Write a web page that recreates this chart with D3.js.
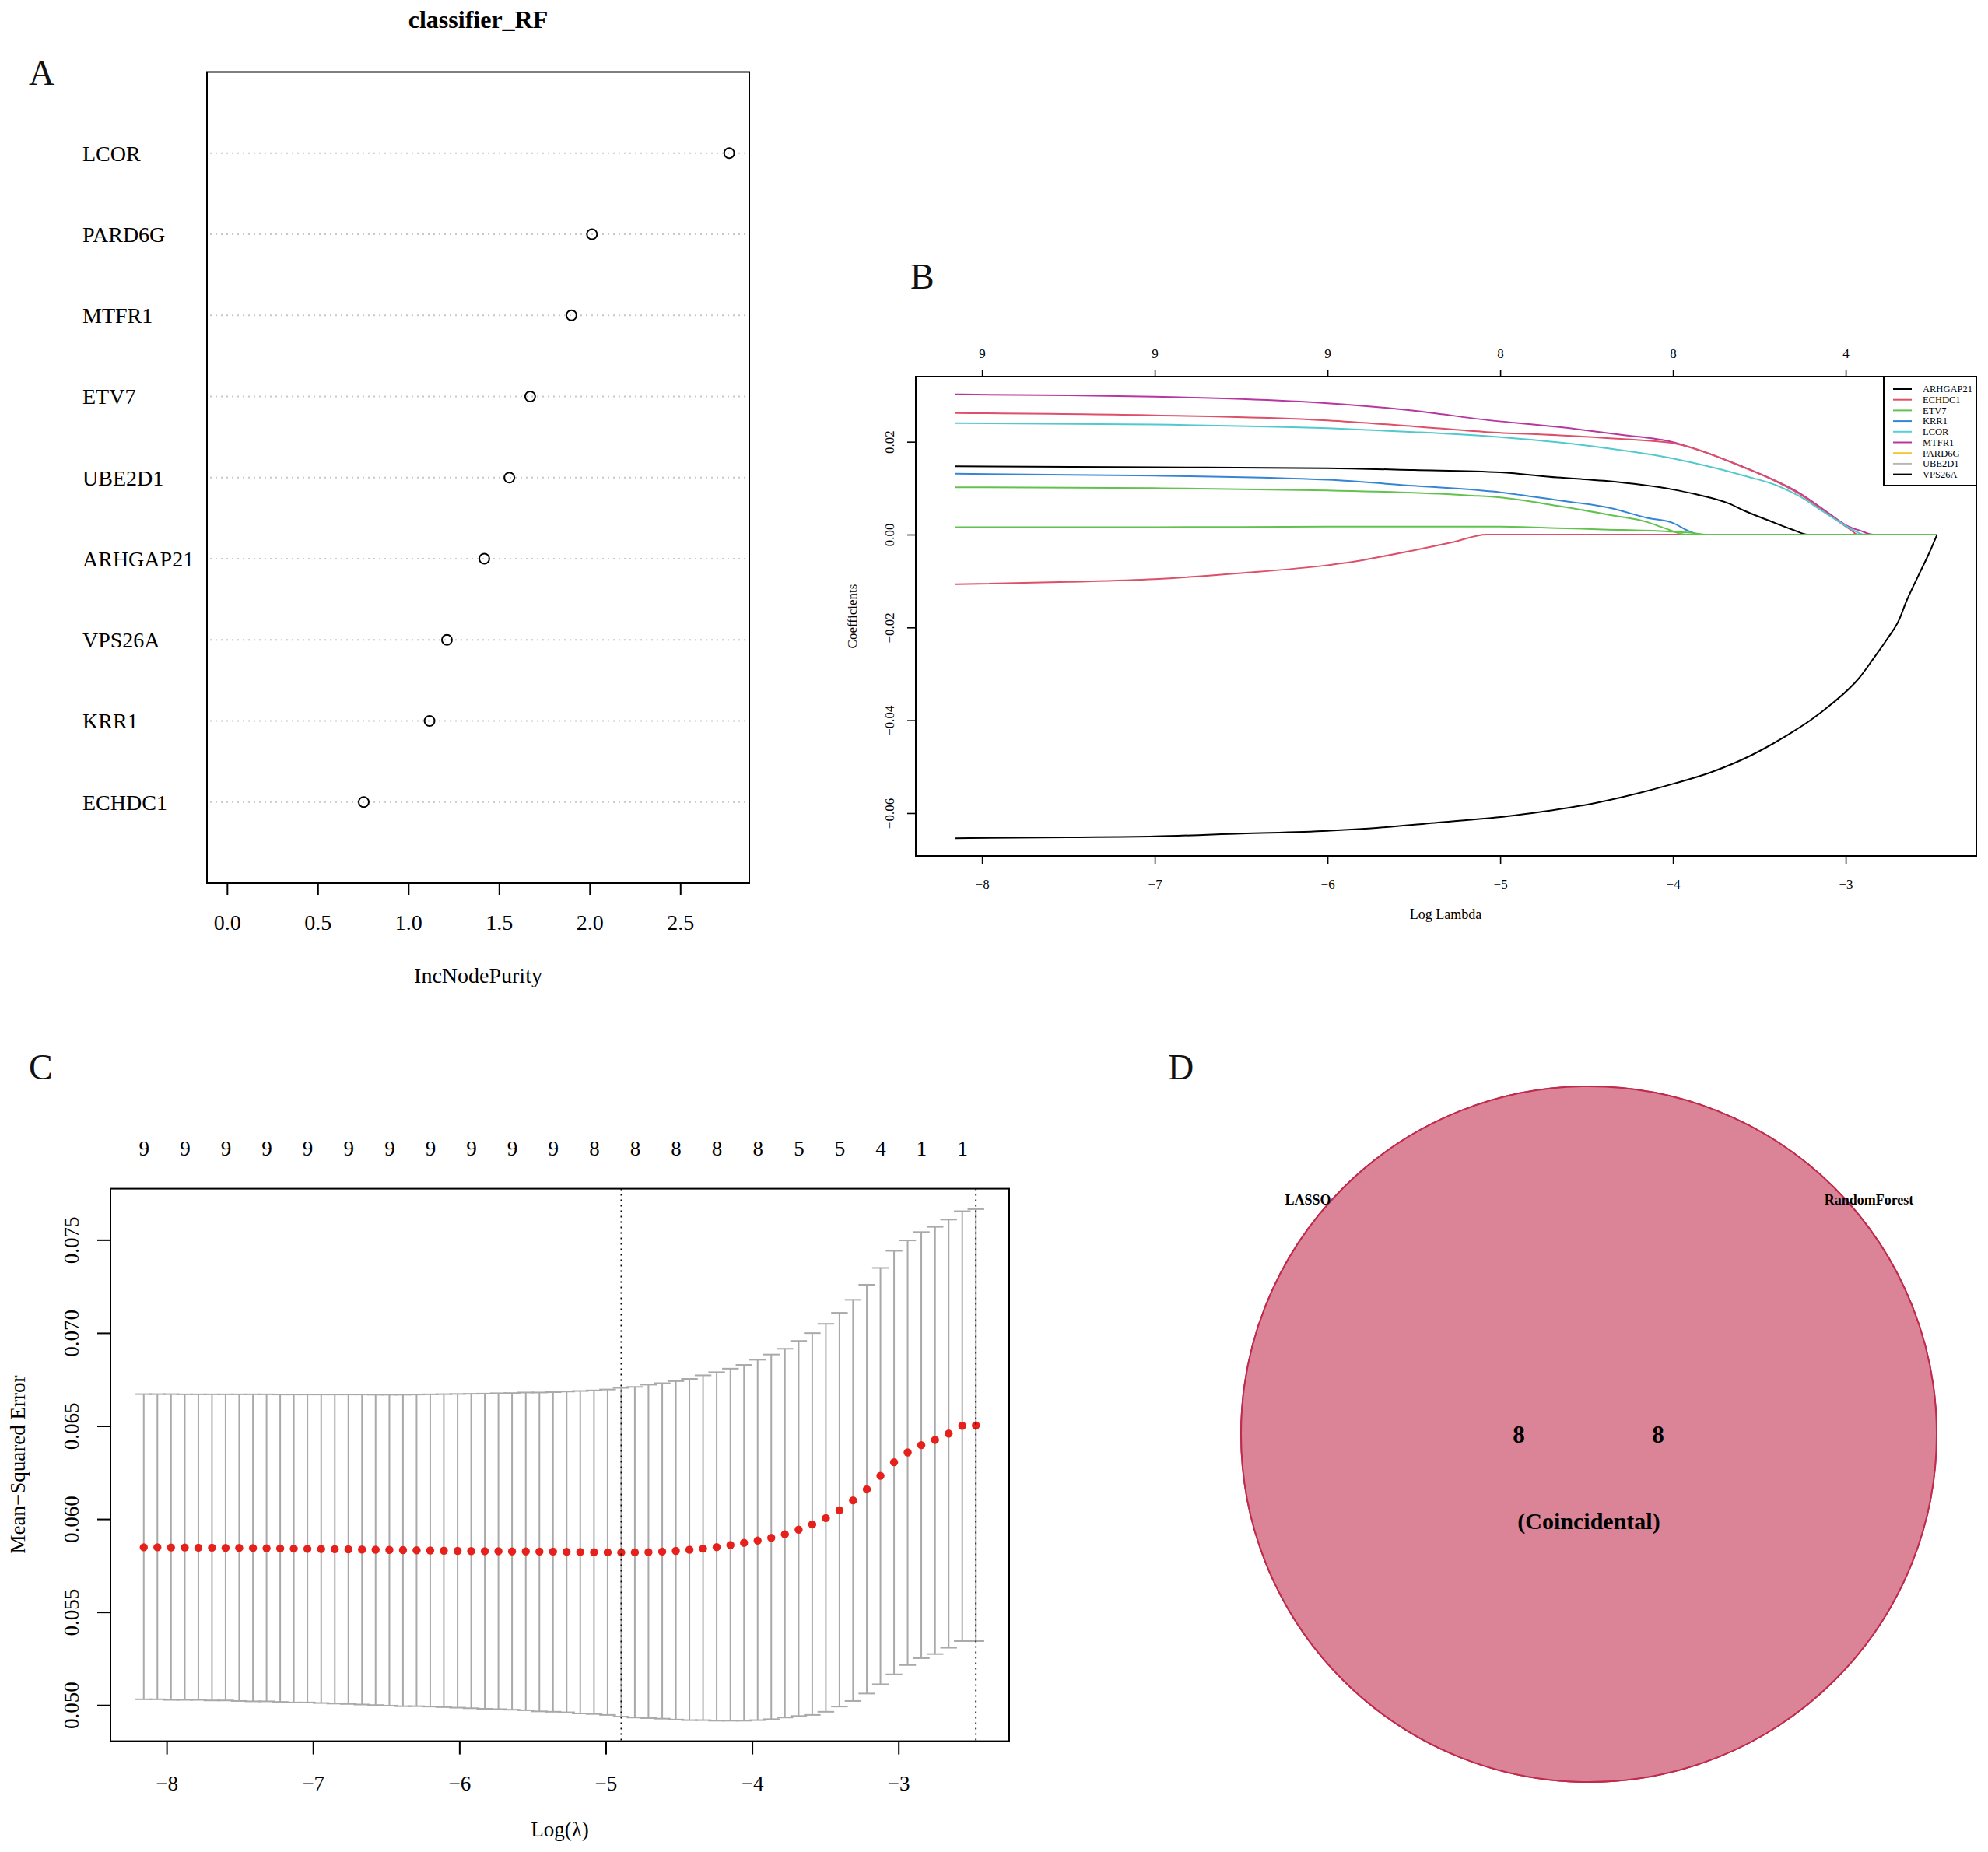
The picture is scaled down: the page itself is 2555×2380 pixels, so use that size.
<!DOCTYPE html>
<html>
<head>
<meta charset="utf-8">
<script src="https://cdnjs.cloudflare.com/ajax/libs/d3/7.8.5/d3.min.js"></script>
<style>
  body { margin: 0; background: #fff; }
  svg { display: block; }
</style>
</head>
<body>
<svg id="fig" width="2555" height="2380"></svg>
<script>
// ---- A: random forest importance ----
var rfGenes = ["LCOR", "PARD6G", "MTFR1", "ETV7", "UBE2D1", "ARHGAP21", "VPS26A", "KRR1", "ECHDC1"];
var rfPurity = [2.77, 2.013, 1.90, 1.672, 1.557, 1.419, 1.213, 1.117, 0.754];
var rfTicks = [0, 0.5, 1, 1.5, 2, 2.5];

// ---- B: lasso coefficient paths (log lambda, coefficient) ----
var legendGenes = ["ARHGAP21", "ECHDC1", "ETV7", "KRR1", "LCOR", "MTFR1", "PARD6G", "UBE2D1", "VPS26A"];
var legendColors = ["#000000", "#dc5069", "#63c24f", "#3585d6", "#52d2d6", "#b8379f", "#f2c530", "#b8b8b8", "#000000"];

var pathMTFR1 = [[-8.156,0.0302],[-7.5,0.0300],[-7.0,0.0297],[-6.5,0.0292],[-6.0,0.0283],[-5.5,0.0267],[-5.08,0.0247],[-4.67,0.0232],[-4.3,0.0215],[-4.0,0.0199],[-3.9,0.0188],[-3.6,0.0147],[-3.4,0.0115],[-3.27,0.0090],[-3.12,0.0052],[-2.97,0.0015],[-2.92,0.0009],[-2.84,0],[-2.471,0]];
var pathECHDC1 = [[-8.156,0.0262],[-7.0,0.0257],[-6.0,0.0246],[-5.5,0.0233],[-5.08,0.0221],[-4.67,0.0214],[-4.3,0.0206],[-4.0,0.0197],[-3.9,0.0188],[-3.6,0.0146],[-3.4,0.0114],[-3.27,0.0088],[-3.12,0.0049],[-2.97,0.0010],[-2.93,0],[-2.471,0]];
var pathLCOR = [[-8.156,0.0240],[-7.0,0.0237],[-6.0,0.0229],[-5.5,0.0221],[-5.0,0.0210],[-4.67,0.0199],[-4.4,0.0187],[-4.0,0.0164],[-3.75,0.0143],[-3.59,0.0127],[-3.4,0.0106],[-3.27,0.0083],[-3.12,0.0047],[-3.0,0.0019],[-2.96,0.0010],[-2.89,0],[-2.471,0]];
var pathARHGAP21 = [[-8.156,0.0147],[-7.0,0.0145],[-6.0,0.0143],[-5.5,0.0139],[-5.0,0.0134],[-4.67,0.0123],[-4.4,0.0116],[-4.0,0.0097],[-3.87,0.0087],[-3.67,0.0066],[-3.59,0.0052],[-3.43,0.0028],[-3.31,0.0011],[-3.22,0],[-2.471,0]];
var pathKRR1 = [[-8.156,0.0131],[-7.0,0.0127],[-6.0,0.0118],[-5.5,0.0105],[-5.0,0.0091],[-4.67,0.0074],[-4.36,0.0057],[-4.15,0.0036],[-4.0,0.0025],[-3.9,0.0006],[-3.84,0],[-2.471,0]];
var pathETV7 = [[-8.156,0.0102],[-7.0,0.0100],[-6.0,0.0095],[-5.5,0.0090],[-5.16,0.0084],[-5.0,0.0080],[-4.67,0.0062],[-4.36,0.0042],[-4.15,0.0027],[-4.05,0.0014],[-3.92,0],[-2.471,0]];
var pathPARD6G = [[-8.156,0.0016],[-7.0,0.0016],[-6.0,0.0017],[-5.0,0.0017],[-4.67,0.0014],[-4.4,0.0011],[-4.05,0.0007],[-3.9,0.0004],[-3.8,0],[-2.471,0]];
var pathUBE2D1 = [[-8.156,-0.0107],[-7.5,-0.0102],[-7.0,-0.0096],[-6.5,-0.0083],[-6.0,-0.0066],[-5.84,-0.0058],[-5.68,-0.0047],[-5.5,-0.0034],[-5.27,-0.0016],[-5.08,0],[-2.471,0]];
var pathVPS26A = [[-8.156,-0.0654],[-7.5,-0.0652],[-7.0,-0.0650],[-6.5,-0.0644],[-6.0,-0.0638],[-5.84,-0.0635],[-5.38,-0.0621],[-4.92,-0.0605],[-4.46,-0.0579],[-4.0,-0.0537],[-3.78,-0.0512],[-3.55,-0.0476],[-3.32,-0.0428],[-3.2,-0.0399],[-3.085,-0.0366],[-2.92,-0.0308],[-2.83,-0.0262],[-2.76,-0.0225],[-2.69,-0.0183],[-2.65,-0.0145],[-2.58,-0.0089],[-2.522,-0.0044],[-2.471,0]];

var coefTopAt = [-8, -7, -6, -5, -4, -3];
var coefTopDf = [9, 9, 9, 8, 8, 4];
var coefXTicks = [-8, -7, -6, -5, -4, -3];
var coefYTicks = [-0.06, -0.04, -0.02, 0, 0.02];

// ---- C: cross validation ----
var cvLogLambda = [-8.156,-8.063,-7.970,-7.876,-7.783,-7.690,-7.597,-7.504,-7.410,-7.317,-7.224,-7.131,-7.038,-6.944,-6.851,-6.758,-6.665,-6.572,-6.478,-6.385,-6.292,-6.199,-6.106,-6.012,-5.919,-5.826,-5.733,-5.640,-5.546,-5.453,-5.360,-5.267,-5.174,-5.080,-4.987,-4.894,-4.801,-4.708,-4.614,-4.521,-4.428,-4.335,-4.242,-4.148,-4.055,-3.962,-3.869,-3.776,-3.682,-3.589,-3.496,-3.403,-3.310,-3.216,-3.123,-3.030,-2.937,-2.844,-2.750,-2.657,-2.564,-2.471];
var cvMean = [0.05848,0.05848,0.05847,0.05847,0.05846,0.05846,0.05845,0.05845,0.05844,0.05843,0.05842,0.05841,0.0584,0.05839,0.05838,0.05837,0.05836,0.05835,0.05834,0.05833,0.05832,0.05831,0.0583,0.05829,0.05828,0.05827,0.05827,
  0.05826,0.05826,0.05825,0.05825,0.05824,0.05823,0.05822,0.05821,0.0582,0.05821,0.05822,0.05825,0.05829,0.05835,0.05841,0.05849,0.0586,0.05872,0.05884,0.05899,0.05918,0.05943,0.05971,0.06005,0.06047,0.061,0.06159,0.06232,0.06305,0.06358,0.06397,0.06425,0.06459,0.06501,0.06503];
var cvUpper = [0.06671,0.06671,0.06671,0.0667,0.0667,0.0667,0.0667,0.0667,0.0667,0.0667,0.06669,0.06669,0.06669,0.06669,0.06669,0.06669,0.06669,0.06668,0.06668,0.06668,0.06669,0.0667,0.06671,0.06672,0.06673,0.06674,0.06676,
  0.06677,0.0668,0.0668,0.06682,0.06685,0.06688,0.06691,0.06696,0.06705,0.0671,0.06722,0.0673,0.06741,0.06753,0.06772,0.06789,0.06808,0.06828,0.06856,0.06884,0.06915,0.06957,0.06999,0.07049,0.07108,0.07178,0.07259,0.07349,0.07441,0.07497,0.07542,0.0757,0.07609,0.07654,0.07665];
var cvLower = [0.05031,0.05031,0.05028,0.05028,0.05028,0.05025,0.05025,0.05022,0.0502,0.0502,0.05017,0.05014,0.05014,0.05011,0.05008,0.05006,0.05003,0.05,0.04997,0.04994,0.04994,0.04992,0.04989,0.04986,0.04983,0.0498,0.04978,
  0.04975,0.04972,0.04966,0.04964,0.04961,0.04955,0.04952,0.04947,0.04938,0.04933,0.0493,0.04927,0.04922,0.04919,0.04919,0.04916,0.04916,0.04916,0.04919,0.04924,0.04933,0.04941,0.04947,0.04964,0.04992,0.05022,0.05062,0.05112,0.05165,0.05215,0.05252,0.05274,0.05308,0.05344,0.05344];
var cvTopAt = [-8.156,-7.876,-7.597,-7.317,-7.038,-6.758,-6.478,-6.199,-5.919,-5.640,-5.360,-5.080,-4.801,-4.521,-4.242,-3.962,-3.682,-3.403,-3.123,-2.844,-2.564];
var cvTopDf = [9,9,9,9,9,9,9,9,9,9,9,8,8,8,8,8,5,5,4,1,1];
var cvLambdaMin = -4.894, cvLambda1se = -2.471;
var cvXTicks = [-8, -7, -6, -5, -4, -3];
var cvYTicks = [0.050, 0.055, 0.060, 0.065, 0.070, 0.075];

// ---- D: venn ----
var vennSets = ["LASSO", "RandomForest"];
var vennSizes = [8, 8];
var vennShared = 8;

var serif = '"Liberation Serif", "Times New Roman", serif';
var svg = d3.select("#fig");
svg.append("rect").attr("width", 2555).attr("height", 2380).attr("fill", "#fff");

/* R style axis range: data extent padded by 4% */
function rPad(ext) {
  var d = (ext[1] - ext[0]) * 0.04;
  return [ext[0] - d, ext[1] + d];
}

function styleAxis(g, size, lw) {
  g.select(".domain").remove();
  g.selectAll("text").attr("font-family", serif).attr("font-size", size).attr("fill", "#000");
  g.selectAll("line").attr("stroke", "#000").attr("stroke-width", lw || 2);
}

/* y labels in R run along the axis */
function rotateLabels(g, offset) {
  g.selectAll(".tick text")
    .attr("x", null).attr("dy", null)
    .attr("text-anchor", "middle")
    .attr("transform", "translate(" + (-offset) + ",0) rotate(-90)");
}

function box(g, x, y) {
  g.append("rect")
    .attr("x", x.range()[0]).attr("y", y.range()[1])
    .attr("width", x.range()[1] - x.range()[0])
    .attr("height", y.range()[0] - y.range()[1])
    .attr("fill", "none").attr("stroke", "#000").attr("stroke-width", 2);
}

function panelLetter(t, x, y) {
  svg.append("text").attr("x", x).attr("y", y).text(t)
    .attr("font-family", serif).attr("font-size", 46).attr("fill", "#111");
}

/*** Panel A ***/
(function() {
  var g = svg.append("g");
  var n = rfGenes.length;
  var x = d3.scaleLinear().domain(rPad([0, d3.max(rfPurity)])).range([266, 963]);
  var y = d3.scaleLinear().domain([0, n + 1]).range([1135, 92.5]);

  g.selectAll("line.guide").data(rfGenes).join("line")
    .attr("class", "guide")
    .attr("x1", x.range()[0] + 4).attr("x2", x.range()[1] - 4)
    .attr("y1", function(d, i) { return y(n - i); })
    .attr("y2", function(d, i) { return y(n - i); })
    .attr("stroke", "#c8c8c8").attr("stroke-width", 2).attr("stroke-dasharray", "2,5");

  g.selectAll("circle").data(rfPurity).join("circle")
    .attr("cx", function(d) { return x(d); })
    .attr("cy", function(d, i) { return y(n - i); })
    .attr("r", 6.5)
    .attr("fill", "none").attr("stroke", "#000").attr("stroke-width", 2);

  g.selectAll("text.lab").data(rfGenes).join("text")
    .attr("class", "lab")
    .attr("x", 106)
    .attr("y", function(d, i) { return y(n - i); })
    .attr("dy", "0.35em")
    .attr("font-family", serif).attr("font-size", 28)
    .text(function(d) { return d; });

  box(g, x, y);

  var xa = g.append("g").attr("transform", "translate(0," + y.range()[0] + ")")
    .call(d3.axisBottom(x).tickValues(rfTicks).tickSize(15).tickPadding(25).tickFormat(d3.format(".1f")));
  styleAxis(xa, 28);

  g.append("text").attr("x", 614.5).attr("y", 1263).attr("text-anchor", "middle")
    .attr("font-family", serif).attr("font-size", 28).text("IncNodePurity");
  g.append("text").attr("x", 614.5).attr("y", 36).attr("text-anchor", "middle")
    .attr("font-family", serif).attr("font-size", 32).attr("font-weight", "bold").text("classifier_RF");
})();
panelLetter("A", 37, 109);

/*** Panel B ***/
(function() {
  var g = svg.append("g");
  var paths = [
    { name: "VPS26A", color: "#000000", pts: pathVPS26A },
    { name: "ARHGAP21", color: "#000000", pts: pathARHGAP21 },
    { name: "MTFR1", color: "#b8379f", pts: pathMTFR1 },
    { name: "ECHDC1", color: "#dc5069", pts: pathECHDC1 },
    { name: "LCOR", color: "#52c9cf", pts: pathLCOR },
    { name: "KRR1", color: "#3585d6", pts: pathKRR1 },
    { name: "UBE2D1", color: "#dc5069", pts: pathUBE2D1 },
    { name: "ETV7", color: "#63c24f", pts: pathETV7 },
    { name: "PARD6G", color: "#63c24f", pts: pathPARD6G }
  ];
  var allPts = d3.merge(paths.map(function(p) { return p.pts; }));
  var x = d3.scaleLinear().domain(rPad(d3.extent(allPts, function(d) { return d[0]; }))).range([1177, 2540]);
  var y = d3.scaleLinear().domain(rPad(d3.extent(allPts, function(d) { return d[1]; }))).range([1100, 484]);

  var line = d3.line()
    .curve(d3.curveMonotoneX)
    .x(function(d) { return x(d[0]); })
    .y(function(d) { return y(d[1]); });
  g.selectAll("path.coef").data(paths).join("path")
    .attr("class", "coef")
    .attr("d", function(d) { return line(d.pts); })
    .attr("fill", "none").attr("stroke", function(d) { return d.color; }).attr("stroke-width", 2);

  box(g, x, y);

  var xa = g.append("g").attr("transform", "translate(0," + y.range()[0] + ")")
    .call(d3.axisBottom(x).tickValues(coefXTicks).tickSize(10).tickPadding(20).tickFormat(d3.format("d")));
  styleAxis(xa, 17, 1.6);

  var ta = g.append("g").attr("transform", "translate(0," + y.range()[1] + ")")
    .call(d3.axisTop(x).tickValues(coefTopAt).tickSize(8).tickPadding(16)
      .tickFormat(function(d, i) { return coefTopDf[i]; }));
  styleAxis(ta, 17, 1.6);

  var ya = g.append("g").attr("transform", "translate(" + x.range()[0] + ",0)")
    .call(d3.axisLeft(y).tickValues(coefYTicks).tickSize(11).tickFormat(d3.format(".2f")));
  styleAxis(ya, 17, 1.6);
  rotateLabels(ya, 28);

  g.append("text").attr("x", 1858).attr("y", 1181).attr("text-anchor", "middle")
    .attr("font-family", serif).attr("font-size", 18).text("Log Lambda");
  g.append("text").attr("transform", "translate(1101,792) rotate(-90)").attr("text-anchor", "middle")
    .attr("font-family", serif).attr("font-size", 17).text("Coefficients");

  // legend
  var lg = g.append("g");
  lg.append("rect").attr("x", 2421).attr("y", 484).attr("width", 119).attr("height", 140)
    .attr("fill", "#fff").attr("stroke", "#000").attr("stroke-width", 2);
  var rows = lg.selectAll("g.row").data(legendGenes).join("g")
    .attr("class", "row")
    .attr("transform", function(d, i) { return "translate(2433," + (500 + i * 13.7) + ")"; });
  rows.append("line").attr("x1", 0).attr("x2", 24)
    .attr("stroke", function(d, i) { return legendColors[i]; }).attr("stroke-width", 2);
  rows.append("text").attr("x", 38).attr("dy", "0.35em")
    .attr("font-family", serif).attr("font-size", 12.5).text(function(d) { return d; });
})();
panelLetter("B", 1170, 371);

/*** Panel C ***/
(function() {
  var g = svg.append("g");
  var x = d3.scaleLinear().domain(rPad(d3.extent(cvLogLambda))).range([142, 1297]);
  var y = d3.scaleLinear().domain(rPad([d3.min(cvLower), d3.max(cvUpper)])).range([2237.6, 1527.6]);
  var barw = (d3.max(cvLogLambda) - d3.min(cvLogLambda)) * 0.01;

  var bars = g.append("g").attr("stroke", "#a9a9a9").attr("stroke-width", 2);
  bars.selectAll("line.v").data(cvLogLambda).join("line")
    .attr("class", "v")
    .attr("x1", function(d) { return x(d); }).attr("x2", function(d) { return x(d); })
    .attr("y1", function(d, i) { return y(cvUpper[i]); })
    .attr("y2", function(d, i) { return y(cvLower[i]); });
  bars.selectAll("line.up").data(cvLogLambda).join("line")
    .attr("class", "up")
    .attr("x1", function(d) { return x(d - barw); }).attr("x2", function(d) { return x(d + barw); })
    .attr("y1", function(d, i) { return y(cvUpper[i]); })
    .attr("y2", function(d, i) { return y(cvUpper[i]); });
  bars.selectAll("line.lo").data(cvLogLambda).join("line")
    .attr("class", "lo")
    .attr("x1", function(d) { return x(d - barw); }).attr("x2", function(d) { return x(d + barw); })
    .attr("y1", function(d, i) { return y(cvLower[i]); })
    .attr("y2", function(d, i) { return y(cvLower[i]); });

  g.selectAll("circle").data(cvMean).join("circle")
    .attr("cx", function(d, i) { return x(cvLogLambda[i]); })
    .attr("cy", function(d) { return y(d); })
    .attr("r", 5.2).attr("fill", "#e6211b");

  g.selectAll("line.sel").data([cvLambdaMin, cvLambda1se]).join("line")
    .attr("class", "sel")
    .attr("x1", function(d) { return x(d); }).attr("x2", function(d) { return x(d); })
    .attr("y1", y.range()[1]).attr("y2", y.range()[0])
    .attr("stroke", "#000").attr("stroke-width", 1.8).attr("stroke-dasharray", "2,5");

  box(g, x, y);

  var xa = g.append("g").attr("transform", "translate(0," + y.range()[0] + ")")
    .call(d3.axisBottom(x).tickValues(cvXTicks).tickSize(17).tickPadding(27).tickFormat(d3.format("d")));
  styleAxis(xa, 27);

  var ta = g.append("g").attr("transform", "translate(0," + y.range()[1] + ")")
    .call(d3.axisTop(x).tickValues(cvTopAt).tickSize(0).tickPadding(43)
      .tickFormat(function(d, i) { return cvTopDf[i]; }));
  styleAxis(ta, 27);
  ta.selectAll("line").remove();

  var ya = g.append("g").attr("transform", "translate(" + x.range()[0] + ",0)")
    .call(d3.axisLeft(y).tickValues(cvYTicks).tickSize(17).tickFormat(d3.format(".3f")));
  styleAxis(ya, 27);
  rotateLabels(ya, 41);

  g.append("text").attr("x", 719.5).attr("y", 2360).attr("text-anchor", "middle")
    .attr("font-family", serif).attr("font-size", 27).text("Log(\u03bb)");
  g.append("text").attr("transform", "translate(32,1882) rotate(-90)").attr("text-anchor", "middle")
    .attr("font-family", serif).attr("font-size", 27).text("Mean\u2212Squared Error");
})();
panelLetter("C", 37, 1387);

/*** Panel D ***/
(function() {
  var g = svg.append("g");
  var cx = 2042, cy = 1843;
  var r = d3.scaleSqrt().domain([0, d3.max(vennSizes)]).range([0, 447]);
  // identical sets: the circles share one centre
  var shift = d3.scaleLinear().domain([0, d3.min(vennSizes)]).range([0, 0]);

  g.selectAll("circle").data(vennSizes).join("circle")
    .attr("cx", function(d, i) { return cx + (i ? 1 : -1) * shift(d - vennShared); })
    .attr("cy", cy)
    .attr("r", function(d) { return r(d); })
    .attr("fill", "#db8497").attr("stroke", "#c02a4c").attr("stroke-width", 2);

  g.selectAll("text.set").data(vennSets).join("text")
    .attr("class", "set")
    .attr("x", function(d, i) { return cx + (i ? 360 : -361); })
    .attr("y", cy - 295)
    .attr("text-anchor", "middle")
    .attr("font-family", serif).attr("font-size", 18).attr("font-weight", "bold")
    .text(function(d) { return d; });

  g.selectAll("text.num").data(vennSizes).join("text")
    .attr("class", "num")
    .attr("x", function(d, i) { return cx + (i ? 89 : -90); })
    .attr("y", cy + 11)
    .attr("text-anchor", "middle")
    .attr("font-family", serif).attr("font-size", 31).attr("font-weight", "bold")
    .text(function(d) { return d; });

  g.append("text").attr("x", cx).attr("y", cy + 122).attr("text-anchor", "middle")
    .attr("font-family", serif).attr("font-size", 30).attr("font-weight", "bold")
    .text("(Coincidental)");
})();
panelLetter("D", 1501, 1387);
</script>
</body>
</html>
